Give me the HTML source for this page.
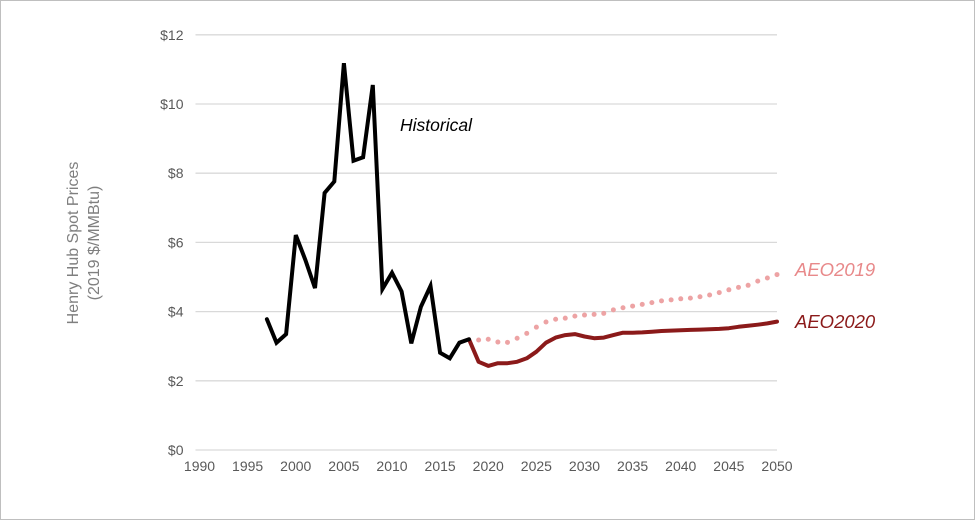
<!DOCTYPE html>
<html><head><meta charset="utf-8"><style>
body{margin:0;background:#fff;}
svg{display:block;font-family:"Liberation Sans",sans-serif;}
</style></head><body>
<svg id="chart" width="975" height="520" viewBox="0 0 975 520">
<rect x="0.5" y="0.5" width="974" height="519" fill="#fff" stroke="#bfbfbf"/>
<g id="grid"></g>
<g id="yticks"></g>
<g id="xticks"></g>
<text transform="translate(81,243) rotate(-90)" text-anchor="middle" font-size="16" fill="#7f7f7f"><tspan x="0" y="-3">Henry Hub Spot Prices</tspan><tspan x="0" y="18">(2019 $/MMBtu)</tspan></text>
<g id="series"></g>
<text x="400" y="131" font-size="17.5" font-style="italic" fill="#000">Historical</text>
<text x="795" y="276" font-size="18.5" font-style="italic" fill="#e8898a">AEO2019</text>
<text x="795" y="328" font-size="18.5" font-style="italic" fill="#8b1a1a">AEO2020</text>
</svg>
<script>
const yTicks=[0,2,4,6,8,10,12];
const yTickLabels=["$0","$2","$4","$6","$8","$10","$12"];
const xTicks=[1990,1995,2000,2005,2010,2015,2020,2025,2030,2035,2040,2045,2050];
const histYears=[1997,1998,1999,2000,2001,2002,2003,2004,2005,2006,2007,2008,2009,2010,2011,2012,2013,2014,2015,2016,2017,2018];
const histValues=[3.78,3.10,3.35,6.21,5.49,4.68,7.43,7.76,11.18,8.36,8.46,10.55,4.65,5.12,4.58,3.08,4.14,4.74,2.81,2.65,3.10,3.20];
const aeo2020Years=[2018,2019,2020,2021,2022,2023,2024,2025,2026,2027,2028,2029,2030,2031,2032,2033,2034,2035,2036,2037,2038,2039,2040,2041,2042,2043,2044,2045,2046,2047,2048,2049,2050];
const aeo2020Values=[3.20,2.55,2.43,2.51,2.51,2.55,2.65,2.84,3.10,3.25,3.32,3.35,3.28,3.23,3.25,3.32,3.39,3.39,3.40,3.42,3.44,3.45,3.46,3.47,3.48,3.49,3.50,3.52,3.56,3.59,3.62,3.66,3.71];
const aeo2019Years=[2019,2020,2021,2022,2023,2024,2025,2026,2027,2028,2029,2030,2031,2032,2033,2034,2035,2036,2037,2038,2039,2040,2041,2042,2043,2044,2045,2046,2047,2048,2049,2050];
const aeo2019Values=[3.18,3.20,3.12,3.11,3.23,3.37,3.55,3.70,3.78,3.81,3.87,3.90,3.92,3.95,4.05,4.11,4.16,4.21,4.26,4.31,4.34,4.37,4.39,4.43,4.48,4.55,4.63,4.70,4.76,4.88,4.97,5.07];

const NS="http://www.w3.org/2000/svg";
const x=yr=>199.5+(yr-1990)*9.625;
const y=v=>450-v*34.6;
function mk(tag,attrs,parent){const e=document.createElementNS(NS,tag);for(const k in attrs)e.setAttribute(k,attrs[k]);parent.appendChild(e);return e;}
const grid=document.getElementById('grid'),yt=document.getElementById('yticks'),xt=document.getElementById('xticks'),ser=document.getElementById('series');
yTicks.forEach((v,i)=>{
  const l=mk('line',{x1:x(1990)-4,x2:x(2050),y1:y(v),y2:y(v),stroke:'#d9d9d9','stroke-width':1.3},grid);
  
  
  const t=mk('text',{x:x(1990)-16,y:y(v)+5,'text-anchor':'end','font-size':14,fill:'#595959'},yt);
  t.textContent=yTickLabels[i];
  
  
});
xTicks.forEach(v=>{
  const t=mk('text',{x:x(v),y:471,'text-anchor':'middle','font-size':14,fill:'#595959'},xt);
  t.textContent=v;
  
  
});
function pts(ys,vs){return ys.map((yr,i)=>x(yr).toFixed(1)+','+y(vs[i]).toFixed(1)).join(' ');}
aeo2019Values.forEach((v,i)=>{
  const c=mk('circle',{cx:x(aeo2019Years[i]),cy:y(v),r:2.5,fill:'#eda3a4'},ser);
  
  
});
const l20=mk('polyline',{points:pts(aeo2020Years,aeo2020Values),fill:'none',stroke:'#8b1a1a','stroke-width':4,'stroke-linejoin':'round','stroke-linecap':'round'},ser);


const lh=mk('polyline',{points:pts(histYears,histValues),fill:'none',stroke:'#000','stroke-width':4,'stroke-linejoin':'miter','stroke-linecap':'round'},ser);


</script>
</body></html>
